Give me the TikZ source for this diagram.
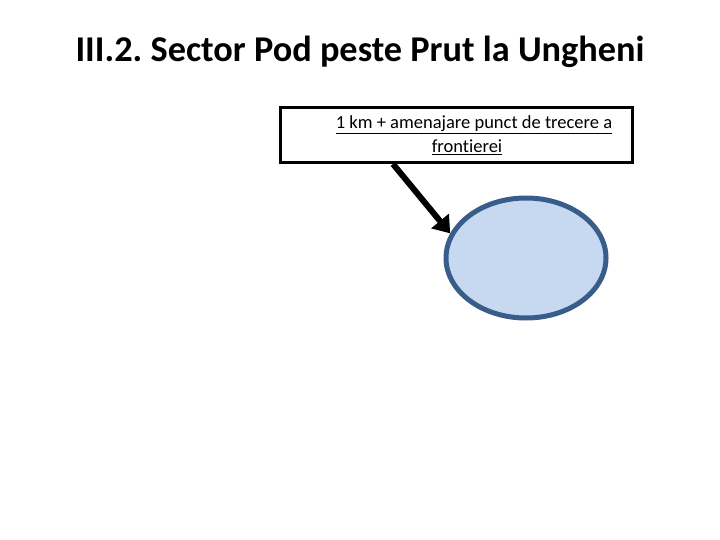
\documentclass[tikz,border=0pt]{standalone}
\usepackage{fontspec}
\setmainfont{Carlito}[Ligatures={TeX,NoCommon}]
\usetikzlibrary{shapes.geometric, arrows.meta, positioning}
\definecolor{ovalfill}{RGB}{198,217,240}
\definecolor{ovaldraw}{RGB}{56,93,138}
\tikzstyle{headline} = [font=\fontsize{36.3}{40}\selectfont\bfseries, inner sep=0pt]
\tikzstyle{labelbox} = [rectangle, draw=black, line width=3pt, fill=white, minimum width=352pt, minimum height=55pt, inner sep=0pt, align=center, font=\fontsize{18.5}{24}\selectfont]
\tikzstyle{oval} = [ellipse, draw=ovaldraw, fill=ovalfill, line width=5pt, minimum width=160pt, minimum height=120pt, inner sep=0pt]
\tikzstyle{bigarrow} = [line width=6pt, -{Triangle[length=16pt, width=22pt]}]

\begin{document}
\frenchspacing
\begin{tikzpicture}[x=1pt, y=-1pt]
\useasboundingbox (0,0) rectangle (720,540);

% Nodes
\node (title) [headline] at (360,52) {III.2. Sector Pod peste Prut la Ungheni};

\node (box) [labelbox] at (456,135) {\hspace*{36pt}\underline{1 km + amenajare punct de trecere a}\\\hspace*{22pt}\underline{frontierei}};

\node (place) [oval] at (526,258) {};

% Arrows
\draw [bigarrow] ([xshift=-63pt]box.south) -- (place.162);

\end{tikzpicture}
\end{document}
